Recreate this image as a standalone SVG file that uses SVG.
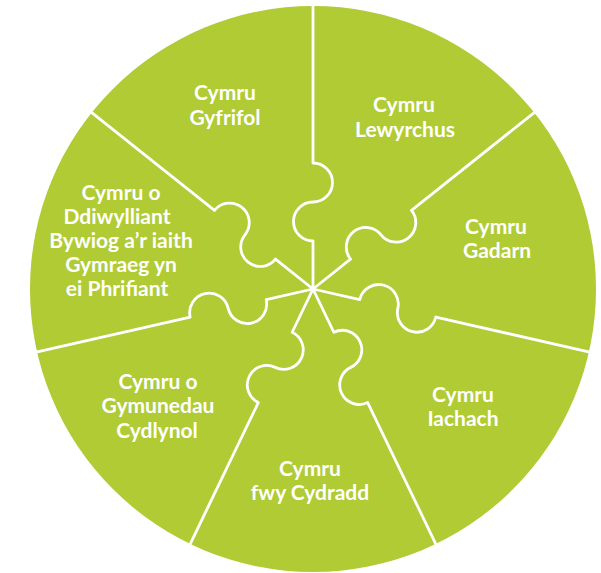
<svg xmlns="http://www.w3.org/2000/svg" width="601" height="573" viewBox="0 0 601 573">
<style>
.disc{fill:#B0CB34}
.div{fill:none;stroke:#FFFFFF;stroke-width:2.8;stroke-linejoin:round}
.lbl{font-family:Lato,"Open Sans","Liberation Sans",sans-serif;font-weight:700;font-size:21px;fill:#FFFFFF;text-anchor:middle}
</style>
<rect width="601" height="573" fill="#FFFFFF"/>
<g id="wheel">
<circle class="disc" cx="313" cy="289" r="283"/>
</g>
<g id="connectors">
<path class="div" d="M313 289 V241 A19.5 19.5 0 0 1 313 202 A19.5 19.5 0 0 0 313 163 V4"/>
<path class="div" transform="rotate(51.428571 313 289)" d="M313 289 V241 A19.5 19.5 0 0 1 313 202 A19.5 19.5 0 0 0 313 163 V4"/>
<path class="div" transform="rotate(102.857143 313 289)" d="M313 289 V241 A19.5 19.5 0 0 1 313 202 A19.5 19.5 0 0 0 313 163 V4"/>
<path class="div" transform="rotate(154.285714 313 289)" d="M313 289 V241 A19.5 19.5 0 0 1 313 202 A19.5 19.5 0 0 0 313 163 V4"/>
<path class="div" transform="rotate(205.714286 313 289)" d="M313 289 V241 A19.5 19.5 0 0 1 313 202 A19.5 19.5 0 0 0 313 163 V4"/>
<path class="div" transform="rotate(257.142857 313 289)" d="M313 289 V241 A19.5 19.5 0 0 1 313 202 A19.5 19.5 0 0 0 313 163 V4"/>
<path class="div" transform="rotate(308.571429 313 289)" d="M313 289 V241 A19.5 19.5 0 0 1 313 202 A19.5 19.5 0 0 0 313 163 V4"/>
</g>
<g id="node-gyfrifol">
<text class="lbl" x="225" y="100">Cymru</text>
<text class="lbl" x="225" y="124.5">Gyfrifol</text>
</g>
<g id="node-lewyrchus">
<text class="lbl" x="404" y="112">Cymru</text>
<text class="lbl" x="405" y="137">Lewyrchus</text>
</g>
<g id="node-gadarn">
<text class="lbl" x="496" y="233.5">Cymru</text>
<text class="lbl" x="497" y="257.5">Gadarn</text>
</g>
<g id="node-iachach">
<text class="lbl" x="463" y="401.5">Cymru</text>
<text class="lbl" x="463" y="426">Iachach</text>
</g>
<g id="node-cydradd">
<text class="lbl" x="310" y="476">Cymru</text>
<text class="lbl" x="310" y="500">fwy Cydradd</text>
</g>
<g id="node-cymunedau">
<text class="lbl" x="158" y="388.5">Cymru o</text>
<text class="lbl" x="158" y="413">Gymunedau</text>
<text class="lbl" x="157" y="437.5">Cydlynol</text>
</g>
<g id="node-diwylliant">
<text class="lbl" x="121" y="200">Cymru o</text>
<text class="lbl" x="117" y="224">Ddiwylliant</text>
<text class="lbl" x="121" y="248">Bywiog a’r iaith</text>
<text class="lbl" x="121" y="272">Gymraeg yn</text>
<text class="lbl" x="117" y="296">ei Phrifiant</text>
</g>
</svg>
